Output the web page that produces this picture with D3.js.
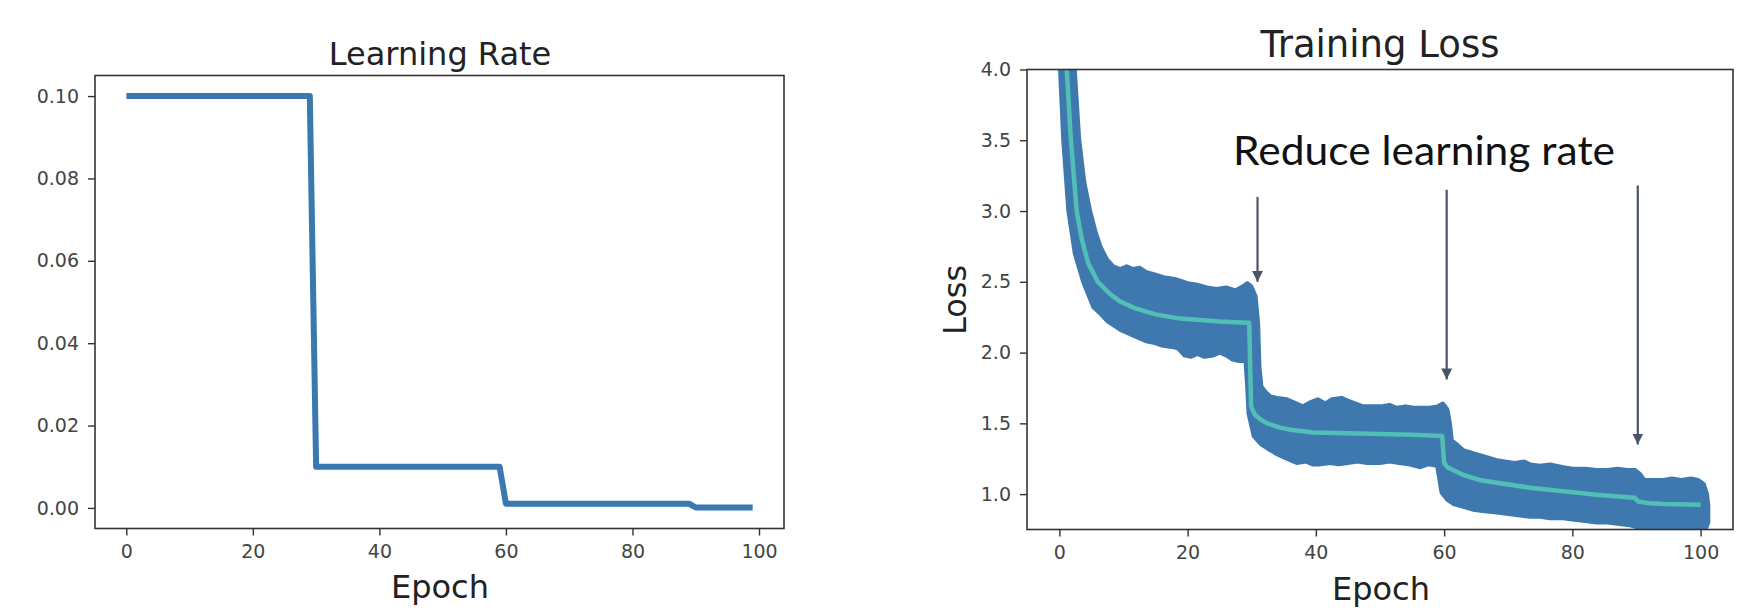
<!DOCTYPE html>
<html>
<head>
<meta charset="utf-8">
<script src="https://cdn.jsdelivr.net/npm/d3@7"></script>
<style>
  body { margin: 0; background: #fff; }
  text { font-family: "DejaVu Sans", sans-serif; }
</style>
</head>
<body>
<div id="chart"></div>
<script>
// learning rate schedule (breakpoints of the step curve)
const lrEpochs = [0, 29, 30, 59, 60, 89, 90, 99];
const lrValues = [0.1, 0.1, 0.01, 0.01, 0.001, 0.001, 0.0001, 0.0001];
const lrTicksX = [0, 20, 40, 60, 80, 100];
const lrTicksY = [0, 0.02, 0.04, 0.06, 0.08, 0.10];

// training loss: upper and lower edge of the noisy band, and the smoothed curve
const upperEpochs = [0, 0.8, 1.8, 2.4, 3.1, 3.9, 4.8, 5.6, 6.4, 7.4, 8.4, 9.5, 10.5, 11.5, 12.5, 13.5, 15, 16.5, 18, 20,
  21.5, 23, 24.5, 26, 27.5, 28.7, 29.3, 29.9, 30.6, 31.0, 31.2, 31.5, 32.2, 32.9, 34, 35.5, 37, 38, 39.2, 40.3,
  41.5, 42.5, 44, 45, 46.2, 47.4, 49, 50, 51.5, 52.6, 54, 55.2, 56.5, 57.8, 59, 59.8, 60.5, 60.9, 61.2, 62,
  63, 64.5, 66, 68.2, 69.5, 71, 72.5, 73.4, 75, 76.5, 78.6, 80, 82, 83.8, 85.5, 87, 88.5, 89.8, 90.6, 91.2,
  92.5, 94.2, 95.5, 97, 98.5, 99.6, 100.5, 101.0, 101.2];
const upperLoss = [7.5, 5.2, 4.3, 4.0, 3.5, 3.2, 3.0, 2.86, 2.75, 2.66, 2.61, 2.59, 2.61, 2.59, 2.60, 2.57, 2.55, 2.53, 2.52, 2.49,
  2.48, 2.46, 2.45, 2.46, 2.44, 2.47, 2.49, 2.47, 2.40, 2.2, 1.9, 1.76, 1.72, 1.69, 1.68, 1.67, 1.64, 1.62, 1.65, 1.67,
  1.64, 1.67, 1.68, 1.66, 1.64, 1.62, 1.62, 1.62, 1.63, 1.61, 1.62, 1.61, 1.61, 1.61, 1.62, 1.64, 1.60, 1.5, 1.38, 1.35,
  1.31, 1.29, 1.27, 1.24, 1.23, 1.22, 1.23, 1.21, 1.20, 1.21, 1.19, 1.18, 1.18, 1.17, 1.17, 1.18, 1.17, 1.17, 1.14, 1.10,
  1.10, 1.10, 1.11, 1.10, 1.11, 1.10, 1.07, 1.0, 0.92];
const lowerEpochs = [0, 0.1, 0.6, 1.4, 2.4, 3.7, 5.3, 6.5, 7.5, 8.5, 9.5, 10.5, 11.5, 12.5, 13.5, 14.7, 16, 17.5, 18.5, 19.5,
  20.5, 21.5, 22.6, 24, 25, 26, 27, 28, 29.0, 29.3, 29.5, 30.3, 31.5, 32.9, 34, 35, 36, 37, 38.5, 39.5,
  40.7, 42.2, 43.5, 45, 46.5, 48, 50, 51.5, 53, 54.5, 56.3, 57.5, 58.9, 59.2, 59.6, 60.5, 61.5, 63, 64.5, 66,
  68.2, 70, 71.5, 73.4, 75, 76.5, 78.6, 80, 82, 83.8, 85.5, 87, 89, 90.5, 91.7, 93, 96, 99, 100.5, 101.2];
const lowerLoss = [6.5, 4.0, 3.5, 3.0, 2.7, 2.5, 2.32, 2.27, 2.22, 2.19, 2.16, 2.14, 2.12, 2.10, 2.08, 2.07, 2.05, 2.04, 2.03, 1.98,
  1.97, 1.99, 1.97, 1.98, 2.00, 1.98, 1.95, 1.94, 1.95, 1.75, 1.57, 1.41, 1.35, 1.31, 1.28, 1.26, 1.24, 1.22, 1.23, 1.21,
  1.21, 1.22, 1.21, 1.22, 1.23, 1.22, 1.22, 1.23, 1.22, 1.21, 1.19, 1.21, 1.20, 1.12, 1.01, 0.96, 0.93, 0.91, 0.89, 0.88,
  0.87, 0.86, 0.85, 0.84, 0.84, 0.83, 0.83, 0.82, 0.81, 0.80, 0.80, 0.79, 0.78, 0.76, 0.72, 0.70, 0.70, 0.70, 0.72, 0.80];
const meanEpochs = [0, 0.5, 1.15, 1.8, 2.7, 3.5, 4.5, 6, 8, 9.5, 12, 15, 18.8, 22, 25, 27.5, 29.6, 29.9, 30.5, 31.3,
  32.4, 34.4, 36, 39.6, 45, 50, 55, 59.7, 60.0, 60.5, 61.4, 63, 65.5, 68.2, 73.4, 78.6, 83.8, 89.7, 90.3, 92, 94.2, 100];
const meanLoss = [6.8, 5.0, 4.0, 3.5, 3.0, 2.8, 2.63, 2.5, 2.41, 2.36, 2.31, 2.27, 2.24, 2.23, 2.22, 2.215, 2.21, 1.62, 1.56, 1.53,
  1.50, 1.47, 1.455, 1.435, 1.43, 1.425, 1.42, 1.41, 1.22, 1.19, 1.17, 1.135, 1.10, 1.08, 1.045, 1.02, 0.995, 0.975, 0.947, 0.935, 0.93, 0.925];
const lossTicksX = [0, 20, 40, 60, 80, 100];
const lossTicksY = [1.0, 1.5, 2.0, 2.5, 3.0, 3.5, 4.0];

// the three "reduce learning rate" arrows
const arrowEpochs = [30.9, 60.4, 90.2];
const arrowFrom = [3.10, 3.15, 3.18];
const arrowTo = [2.50, 1.81, 1.35];

const width = 1748, height = 614;
const svg = d3.select("#chart").append("svg").attr("width", width).attr("height", height);

const defs = svg.append("defs");
defs.append("marker")
  .attr("id", "head")
  .attr("viewBox", "0 0 10 10")
  .attr("refX", 10).attr("refY", 5)
  .attr("markerWidth", 5).attr("markerHeight", 5.5)
  .attr("markerUnits", "strokeWidth")
  .attr("orient", "auto")
  .append("path").attr("d", "M0,0 L10,5 L0,10 Z").attr("fill", "#4b5568");

function frame(g, x, y, xTicks, yTicks, yFmt, fontSize) {
  const [x0, x1] = x.range();
  const [y0, y1] = y.range();
  const ax = g.append("g").attr("transform", `translate(0,${y0})`)
    .call(d3.axisBottom(x).tickValues(xTicks).tickSize(7).tickPadding(9).tickFormat(d3.format("d")));
  const ay = g.append("g").attr("transform", `translate(${x0},0)`)
    .call(d3.axisLeft(y).tickValues(yTicks).tickSize(7).tickPadding(9).tickFormat(yFmt));
  [ax, ay].forEach(a => {
    a.select(".domain").remove();
    a.selectAll(".tick line").attr("stroke", "#333").attr("stroke-width", 1.4);
    a.selectAll(".tick text").attr("fill", "#444").style("font-size", fontSize + "px")
      .style("font-family", "DejaVu Sans");
  });
  g.append("rect")
    .attr("x", x0).attr("y", y1)
    .attr("width", x1 - x0).attr("height", y0 - y1)
    .attr("fill", "none").attr("stroke", "#333").attr("stroke-width", 1.6);
}

// ---------- left panel: learning rate ----------
const xLr = d3.scaleLinear().domain([-4.95, 103.95]).range([95, 784]);
const yLr = d3.scaleLinear().domain([-0.004995, 0.104995]).range([528.5, 75.5]);
const gL = svg.append("g");

gL.append("path")
  .datum(d3.zip(lrEpochs, lrValues))
  .attr("d", d3.line().x(d => xLr(d[0])).y(d => yLr(d[1])))
  .attr("fill", "none")
  .attr("stroke", "#3b77b0")
  .attr("stroke-width", 6)
  .attr("stroke-linejoin", "round");

frame(gL, xLr, yLr, lrTicksX, lrTicksY, d3.format(".2f"), 19);

gL.append("text")
  .attr("x", 440).attr("y", 65)
  .attr("text-anchor", "middle")
  .style("font-size", "32px").attr("fill", "#222")
  .text("Learning Rate");

gL.append("text")
  .attr("x", 440).attr("y", 598)
  .attr("text-anchor", "middle")
  .style("font-size", "32px").attr("fill", "#222")
  .text("Epoch");

// ---------- right panel: training loss ----------
const xLoss = d3.scaleLinear().domain([-5.05, 105.05]).range([1027, 1733]);
const yLoss = d3.scaleLinear().domain([0.75, 4.0]).range([529.5, 69.5]);
const gR = svg.append("g");

defs.append("clipPath").attr("id", "lossClip")
  .append("rect")
  .attr("x", 1027).attr("y", 69.5)
  .attr("width", 706).attr("height", 460);

const band = d3.zip(upperEpochs, upperLoss).concat(d3.zip(lowerEpochs, lowerLoss).reverse());

gR.append("path")
  .datum(band)
  .attr("clip-path", "url(#lossClip)")
  .attr("d", d3.line().x(d => xLoss(d[0])).y(d => yLoss(d[1])).curve(d3.curveLinearClosed))
  .attr("fill", "#3e78ae")
  .attr("stroke", "#3e78ae")
  .attr("stroke-width", 4)
  .attr("stroke-linejoin", "round");

gR.append("path")
  .datum(d3.zip(meanEpochs, meanLoss))
  .attr("clip-path", "url(#lossClip)")
  .attr("d", d3.line().x(d => xLoss(d[0])).y(d => yLoss(d[1])))
  .attr("fill", "none")
  .attr("stroke", "#52bfb7")
  .attr("stroke-width", 4.5)
  .attr("stroke-linejoin", "round");

frame(gR, xLoss, yLoss, lossTicksX, lossTicksY, d3.format(".1f"), 19);

gR.selectAll(".arrow")
  .data(d3.range(arrowEpochs.length))
  .join("line")
  .attr("class", "arrow")
  .attr("x1", i => xLoss(arrowEpochs[i])).attr("x2", i => xLoss(arrowEpochs[i]))
  .attr("y1", i => yLoss(arrowFrom[i])).attr("y2", i => yLoss(arrowTo[i]))
  .attr("stroke", "#4b5568")
  .attr("stroke-width", 2.2)
  .attr("marker-end", "url(#head)");

gR.append("text")
  .attr("x", 1233).attr("y", 165)
  .attr("textLength", 382)
  .attr("lengthAdjust", "spacingAndGlyphs")
  .style("font-family", "Lato, 'Open Sans', sans-serif")
  .style("font-size", "41px").attr("fill", "#111")
  .text("Reduce learning rate");

gR.append("text")
  .attr("x", 1380).attr("y", 57)
  .attr("text-anchor", "middle")
  .style("font-size", "37px").attr("fill", "#222")
  .text("Training Loss");

gR.append("text")
  .attr("x", 1381).attr("y", 600)
  .attr("text-anchor", "middle")
  .style("font-size", "32px").attr("fill", "#222")
  .text("Epoch");

gR.append("text")
  .attr("transform", "translate(966,300) rotate(-90)")
  .attr("text-anchor", "middle")
  .style("font-size", "32px").attr("fill", "#222")
  .text("Loss");
</script>
</body>
</html>
